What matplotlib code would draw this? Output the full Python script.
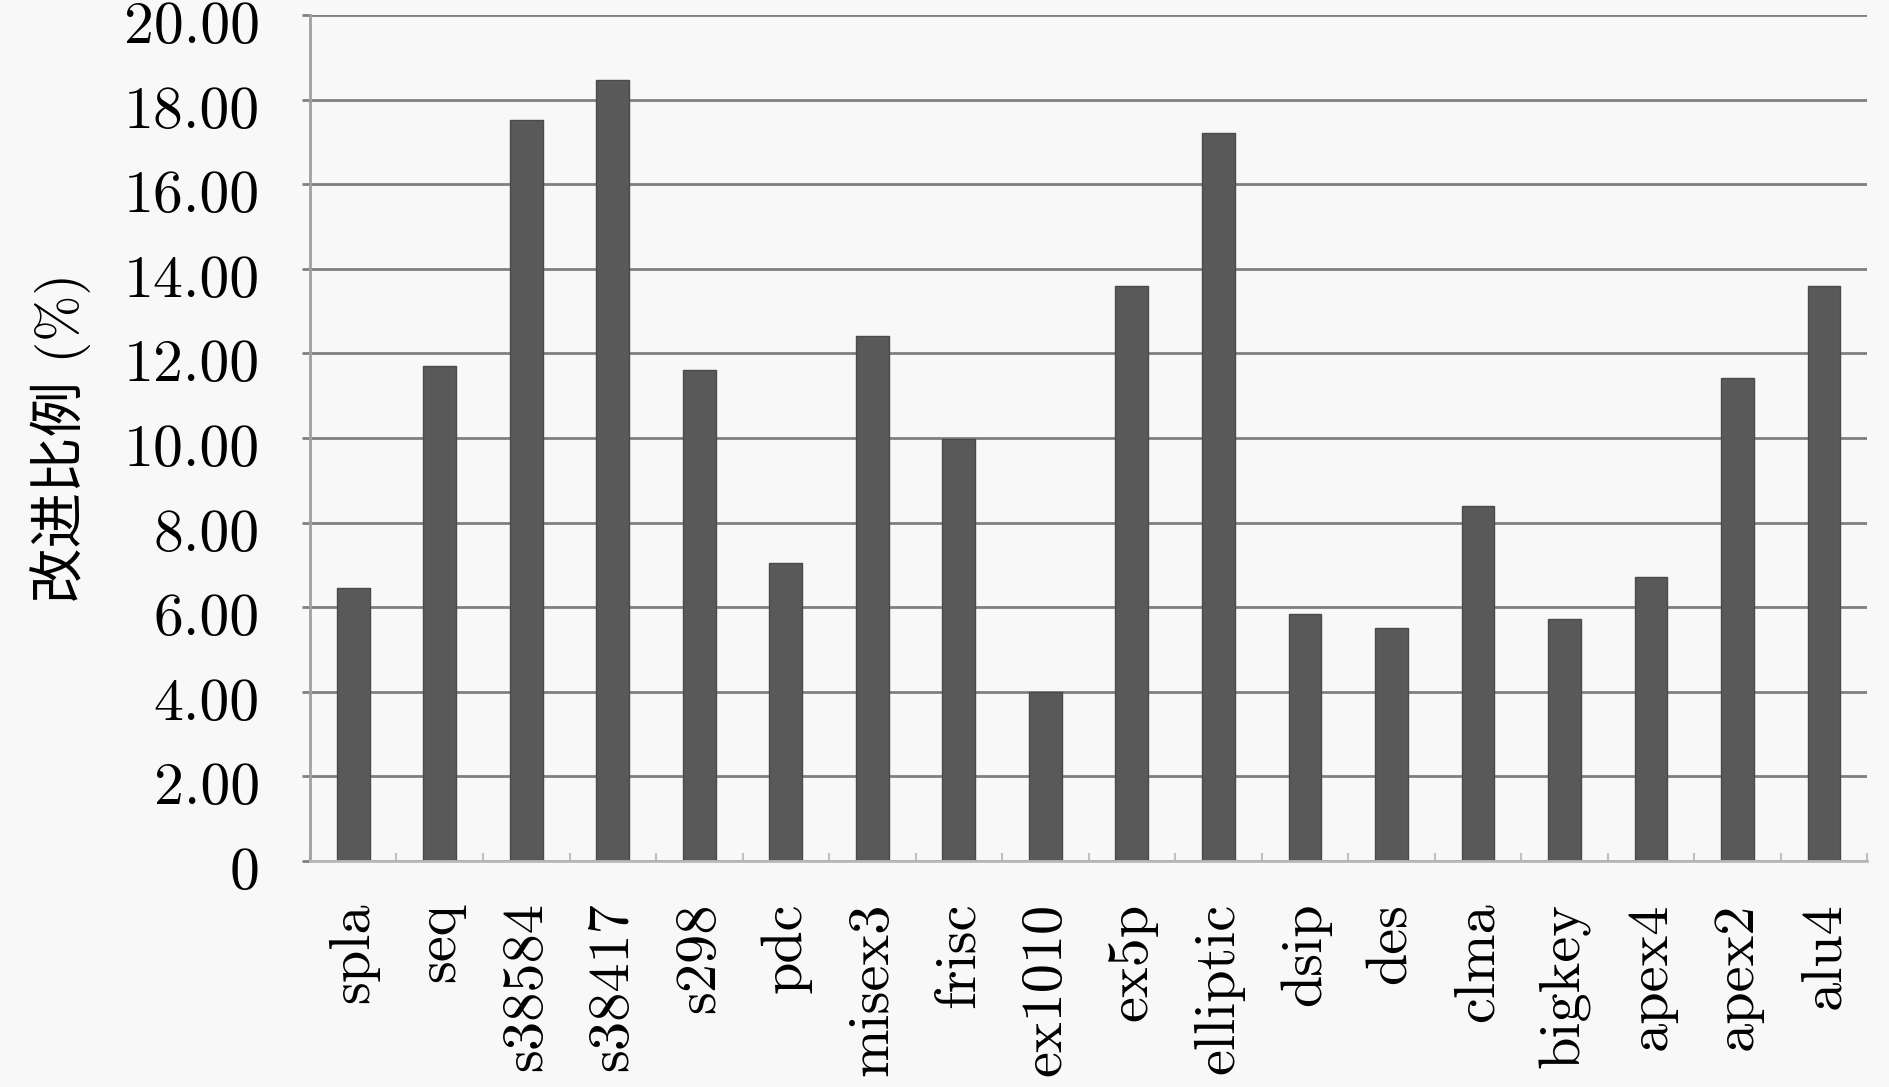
"""Improvement ratio per benchmark circuit."""

import matplotlib

matplotlib.use("Agg")
import matplotlib.pyplot as plt
import matplotlib.transforms as mtransforms
import numpy as np

circuits = ["spla", "seq", "s38584", "s38417", "s298", "pdc", "misex3", "frisc", "ex1010",
            "ex5p", "elliptic", "dsip", "des", "clma", "bigkey", "apex4", "apex2", "alu4"]
improvement = [6.45, 11.71, 17.52, 18.46, 11.60, 7.04, 12.42, 9.97, 3.99,
               13.59, 17.21, 5.84, 5.50, 8.40, 5.73, 6.72, 11.42, 13.59]
y_ticks = [0, 2, 4, 6, 8, 10, 12, 14, 16, 18, 20]
y_tick_labels = ["0", "2.00", "4.00", "6.00", "8.00", "10.00", "12.00", "14.00", "16.00", "18.00", "20.00"]

plt.rcParams["font.family"] = ["cmr10", "Noto Sans CJK SC", "DejaVu Serif"]
plt.rcParams["axes.unicode_minus"] = False

bg = "#f8f8f8"
fig = plt.figure(figsize=(18.9, 10.87), dpi=100, facecolor=bg)
ax = fig.add_axes([0.164, 0.208, 0.824, 0.778], facecolor=bg)

x = np.arange(len(circuits))
ax.bar(x, improvement, width=0.38, color="#595959", edgecolor="#4a4a4a", linewidth=1, zorder=3)

ax.set_xlim(-0.5, len(circuits) - 0.5)
ax.set_ylim(0, 20)
ax.set_yticks(y_ticks)
ax.set_yticklabels(y_tick_labels, fontsize=43)
ax.set_xticks(x)
ax.set_xticklabels(circuits, rotation=90, fontsize=42, va="top", ha="center")
ax.set_xticks(np.arange(-0.5, len(circuits)), minor=True)

ax.tick_params(axis="x", which="major", length=0, pad=30)
ax.tick_params(axis="x", which="minor", direction="in", length=6, color="#c0c0c0", width=1.5)
ax.tick_params(axis="y", which="major", direction="out", length=6, color="#808080", width=2, pad=30)

# the y labels sit a little below their gridlines in the original
# (done after tick_params, which resets the label transforms)
shift = mtransforms.ScaledTranslation(0, -0.07, fig.dpi_scale_trans)
for tick in ax.yaxis.get_major_ticks():
    tick.label1.set_transform(tick.label1.get_transform() + shift)

ax.grid(axis="y", color="#7f7f7f", linewidth=2, zorder=1)
for side in ["top", "right"]:
    ax.spines[side].set_visible(False)
ax.spines["left"].set_color("#a0a0a0")
ax.spines["left"].set_linewidth(2)
ax.spines["bottom"].set_color("#b8b8b8")
ax.spines["bottom"].set_linewidth(2)
ax.spines["bottom"].set_zorder(4)

ax.set_ylabel("改进比例 (%)", fontsize=40, labelpad=24)

fig.savefig("out.png", dpi=100, facecolor=bg)
plt.close(fig)
